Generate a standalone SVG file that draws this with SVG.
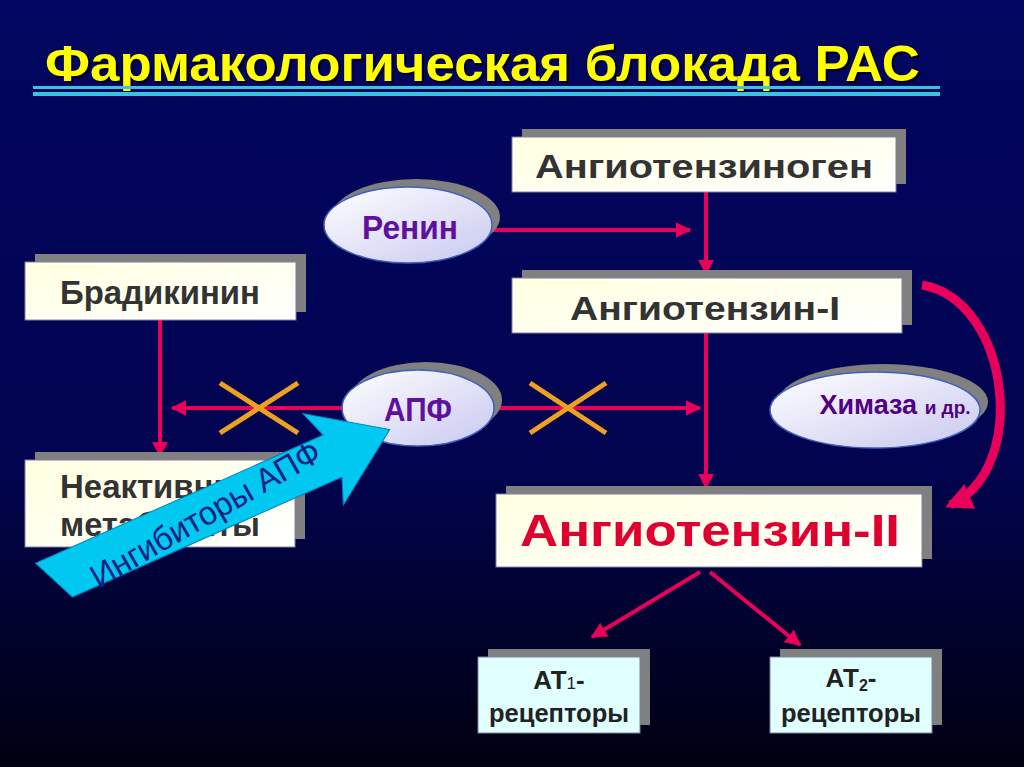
<svg xmlns="http://www.w3.org/2000/svg" width="1024" height="767" viewBox="0 0 1024 767">
<defs>
<linearGradient id="bg" x1="0" y1="0" x2="0" y2="1"><stop offset="0" stop-color="#020660"/><stop offset="0.6" stop-color="#020450"/><stop offset="1" stop-color="#000010"/></linearGradient>
<linearGradient id="box" x1="0" y1="0" x2="1" y2="1"><stop offset="0" stop-color="#FFFFE0"/><stop offset="1" stop-color="#FFFFFF"/></linearGradient>
<linearGradient id="ell" x1="0" y1="0" x2="1" y2="1"><stop offset="0" stop-color="#FFFFFF"/><stop offset="1" stop-color="#C8C8F0"/></linearGradient>
<marker id="ah" viewBox="0 0 10 10" refX="9" refY="5" markerWidth="4" markerHeight="4" orient="auto" markerUnits="strokeWidth"><path d="M0,0 L10,5 L0,10 z" fill="#E8005A"/></marker>
<marker id="ah2" viewBox="0 0 10 10" refX="8" refY="5" markerWidth="3" markerHeight="3" orient="auto" markerUnits="strokeWidth"><path d="M0,0 L10,5 L0,10 z" fill="#E8005A"/></marker>
</defs>
<style>
.sh{fill:#808080}
.bx{fill:url(#box);stroke:#8080A0;stroke-width:1}
.rc{fill:#E0FFFF;stroke:#8080A0;stroke-width:1}
.el{fill:url(#ell);stroke:#4060C0;stroke-width:1.5}
.t{font-family:"Liberation Sans",Arial,sans-serif;font-weight:bold;fill:#333333;text-anchor:middle}
.p{font-family:"Liberation Sans",Arial,sans-serif;font-weight:bold;fill:#6010A0;text-anchor:middle}
.ln{stroke:#E8005A;stroke-width:4;fill:none;marker-end:url(#ah)}
.x{stroke:#F0A020;stroke-width:5}
</style>
<rect width="1024" height="767" fill="url(#bg)"/>
<text x="47" y="83" font-family="'Liberation Sans',Arial,sans-serif" font-weight="bold" font-size="50" fill="#000000" textLength="875" lengthAdjust="spacingAndGlyphs">Фармакологическая блокада РАС</text>
<text x="45" y="81" font-family="'Liberation Sans',Arial,sans-serif" font-weight="bold" font-size="50" fill="#FFFF00" textLength="875" lengthAdjust="spacingAndGlyphs">Фармакологическая блокада РАС</text>
<rect x="33" y="86" width="907" height="3" fill="#40C0E0"/>
<rect x="33" y="92" width="907" height="4" fill="#40C0E0"/>

<g id="connectors">
<line class="ln" x1="492" y1="230" x2="690" y2="230"/>
<line class="ln" x1="706" y1="192" x2="706" y2="274"/>
<line class="ln" x1="706" y1="333" x2="706" y2="488"/>
<line class="ln" x1="493" y1="408" x2="700" y2="408"/>
<line class="ln" x1="342" y1="408" x2="172" y2="408"/>
<line class="ln" x1="160" y1="320" x2="160" y2="456"/>
<line class="ln" x1="700" y1="572" x2="592" y2="637"/>
<line class="ln" x1="710" y1="572" x2="800" y2="645"/>
<path d="M922 285 C1010 300 1030 470 950 505" stroke="#E8005A" stroke-width="9" fill="none" marker-end="url(#ah2)"/>
<line class="x" x1="220" y1="383" x2="298" y2="433"/><line class="x" x1="298" y1="383" x2="220" y2="433"/>
<line class="x" x1="530" y1="383" x2="606" y2="433"/><line class="x" x1="606" y1="383" x2="530" y2="433"/>
</g>

<g id="angiotensinogen"><rect class="sh" x="522" y="129" width="384" height="55"/><rect class="bx" x="512" y="137" width="384" height="55"/><text class="t" x="704" y="178" font-size="33" textLength="338" lengthAdjust="spacingAndGlyphs">Ангиотензиноген</text></g>
<g id="renin"><ellipse class="sh" cx="416" cy="217" rx="84" ry="38"/><ellipse class="el" cx="408" cy="225" rx="84" ry="38"/><text class="p" x="410" y="239" font-size="33" textLength="96" lengthAdjust="spacingAndGlyphs">Ренин</text></g>
<g id="bradykinin"><rect class="sh" x="35" y="254" width="271" height="58"/><rect class="bx" x="25" y="262" width="271" height="58"/><text class="t" x="160" y="304" font-size="33" textLength="200" lengthAdjust="spacingAndGlyphs">Брадикинин</text></g>
<g id="angiotensin1"><rect class="sh" x="522" y="270" width="390" height="55"/><rect class="bx" x="512" y="278" width="390" height="55"/><text class="t" x="705" y="320" font-size="33" textLength="270" lengthAdjust="spacingAndGlyphs">Ангиотензин-I</text></g>
<g id="chymase"><ellipse class="sh" cx="883" cy="402" rx="105" ry="38"/><ellipse class="el" cx="875" cy="410" rx="105" ry="38"/><text class="p" x="895" y="414" font-size="27" style="fill:#500080">Химаза <tspan font-size="19">и др.</tspan></text></g>
<g id="inactive"><rect class="sh" x="35" y="452" width="270" height="87"/><rect class="bx" x="25" y="460" width="270" height="87"/><text class="t" x="160" y="498" font-size="33" textLength="200" lengthAdjust="spacingAndGlyphs">Неактивные</text><text class="t" x="160" y="536" font-size="33" textLength="200" lengthAdjust="spacingAndGlyphs">метаболиты</text></g>
<g id="ace"><ellipse class="sh" cx="426" cy="400" rx="76" ry="38"/><ellipse class="el" cx="418" cy="408" rx="76" ry="38"/><text class="p" x="418" y="421" font-size="33" textLength="68" lengthAdjust="spacingAndGlyphs">АПФ</text></g>
<g id="angiotensin2"><rect class="sh" x="506" y="486" width="426" height="73"/><rect class="bx" x="496" y="494" width="426" height="73"/><text class="t" x="710" y="546" font-size="44" textLength="380" lengthAdjust="spacingAndGlyphs" style="fill:#E00030">Ангиотензин-II</text></g>
<g id="at1"><rect class="sh" x="488" y="649" width="162" height="76"/><rect class="rc" x="478" y="657" width="162" height="76"/><text class="t" x="559" y="689" font-size="26" style="fill:#222">АТ<tspan font-size="17" font-weight="normal">1</tspan>-</text><text class="t" x="559" y="722" font-size="26" textLength="140" lengthAdjust="spacingAndGlyphs" style="fill:#222">рецепторы</text></g>
<g id="at2"><rect class="sh" x="780" y="649" width="162" height="76"/><rect class="rc" x="770" y="657" width="162" height="76"/><text class="t" x="851" y="687" font-size="26" style="fill:#222">АТ<tspan font-size="16" dy="4">2</tspan><tspan dy="-4">-</tspan></text><text class="t" x="851" y="722" font-size="26" textLength="140" lengthAdjust="spacingAndGlyphs" style="fill:#222">рецепторы</text></g>
<g id="ace-inhibitors" transform="translate(218,506) rotate(-24)">
<polygon points="-190,-22 125,-22 115,-50 188,0 115,50 125,24 -170,24" fill="#00C8F0" stroke="#0080C0" stroke-width="1"/>
<text x="-15" y="12" font-family="'Liberation Sans',Arial,sans-serif" font-size="33" fill="#102080" text-anchor="middle" textLength="260" lengthAdjust="spacingAndGlyphs" transform="rotate(-6)">Ингибиторы АПФ</text>
</g>
</svg>
